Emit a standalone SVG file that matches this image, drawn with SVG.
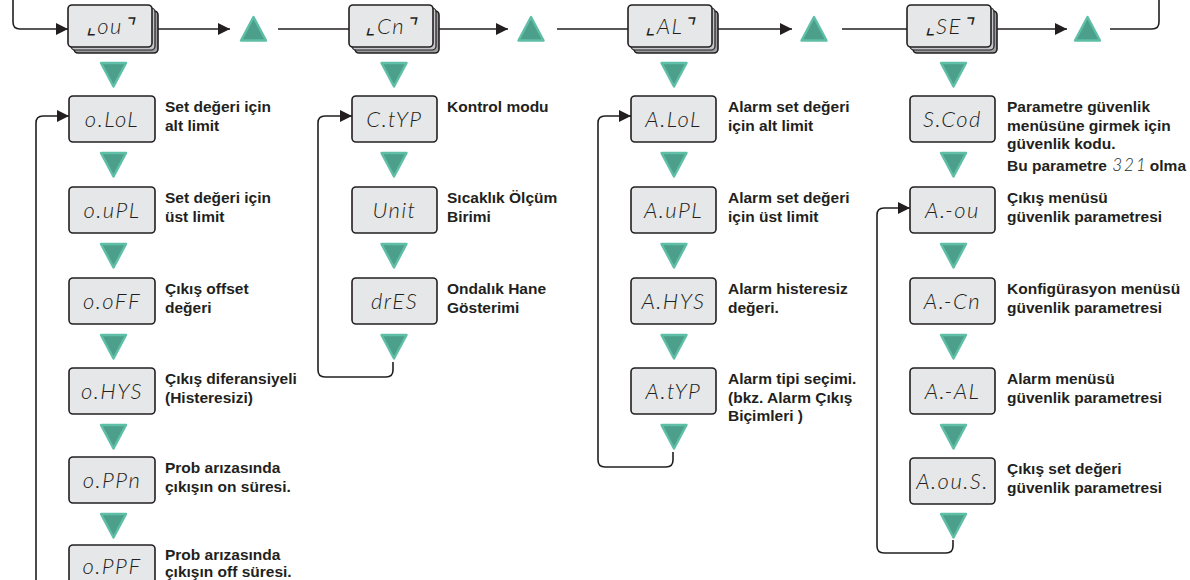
<svg xmlns="http://www.w3.org/2000/svg" xmlns:xlink="http://www.w3.org/1999/xlink" width="1190" height="580" viewBox="0 0 1190 580">
<style>
.face{fill:#e6e7e8;stroke:#231f20;stroke-width:1.6}
.mid{fill:#c4c5c8;stroke:#231f20;stroke-width:1.2}
.back{fill:#9c9ea1;stroke:#231f20;stroke-width:1.6}
.lcd{fill:#e6e7e8;stroke:#231f20;stroke-width:1.6}
.seg{font-family:"Lato","Open Sans","Liberation Sans",sans-serif;font-style:italic;font-weight:300;font-size:22px;letter-spacing:1.5px;fill:#231f20;text-anchor:middle}
.lbl{font-family:"Liberation Sans",Arial,sans-serif;font-weight:bold;font-size:15.5px;fill:#231f20}
.tri{fill:#4b9f8b;stroke:#5fbea6;stroke-width:2.4;stroke-linejoin:round}
.wire{fill:none;stroke:#231f20;stroke-width:1.6}
.arr{fill:none;stroke:#231f20;stroke-width:1.6;marker-end:url(#ah)}
</style>
<defs>
<marker id="ah" markerUnits="userSpaceOnUse" markerWidth="14" markerHeight="14" viewBox="0 0 14 14" refX="13" refY="7" orient="auto">
<path d="M1,1 L13,7 L1,13 Z" fill="#231f20"/>
</marker>
<path id="dn" class="tri" d="M-12.5,0 L12.5,0 L0,23.5 Z"/>
<path id="up" class="tri" d="M-12.5,23.5 L12.5,23.5 L0,0 Z"/>
</defs>

<g id="connectors">
<path class="arr" d="M13,0 L13,22 Q13,29 20,29 L68,29"/>
<path class="arr" d="M158,29 L230,29"/>
<path class="wire" d="M278,29 L349,29"/>
<path class="arr" d="M439,29 L508,29"/>
<path class="wire" d="M557,29 L628,29"/>
<path class="arr" d="M718,29 L792,29"/>
<path class="wire" d="M842,29 L907,29"/>
<path class="arr" d="M997,29 L1067,29"/>
<path class="wire" d="M1110,29 L1152,29 Q1159,29 1159,22 L1159,0"/>
<path class="arr" d="M36,580 L36,123 Q36,116 43,116 L69,116"/>
<path class="arr" d="M393,362 L393,370 Q393,377 386,377 L325,377 Q318,377 318,370 L318,123 Q318,116 325,116 L352,116"/>
<path class="arr" d="M673,452 L673,460 Q673,467 666,467 L605,467 Q598,467 598,460 L598,123 Q598,116 605,116 L631,116"/>
<path class="arr" d="M953,540 L953,546 Q953,553 946,553 L884,553 Q877,553 877,546 L877,215 Q877,208 884,208 L910,208"/>
</g>

<g id="arrows-up">
<use xlink:href="#up" x="253.5" y="17"/>
<use xlink:href="#up" x="531" y="17"/>
<use xlink:href="#up" x="814" y="17"/>
<use xlink:href="#up" x="1087.5" y="17"/>
</g>

<g id="arrows-down">
<use xlink:href="#dn" x="113.5" y="63"/>
<use xlink:href="#dn" x="113.5" y="153"/>
<use xlink:href="#dn" x="113.5" y="244"/>
<use xlink:href="#dn" x="113.5" y="335"/>
<use xlink:href="#dn" x="113.5" y="425"/>
<use xlink:href="#dn" x="113.5" y="514"/>
<use xlink:href="#dn" x="394" y="63"/>
<use xlink:href="#dn" x="394" y="153"/>
<use xlink:href="#dn" x="394" y="244"/>
<use xlink:href="#dn" x="394" y="335"/>
<use xlink:href="#dn" x="674" y="63"/>
<use xlink:href="#dn" x="674" y="153"/>
<use xlink:href="#dn" x="674" y="244"/>
<use xlink:href="#dn" x="674" y="335"/>
<use xlink:href="#dn" x="674" y="425"/>
<use xlink:href="#dn" x="953.5" y="63"/>
<use xlink:href="#dn" x="953.5" y="153"/>
<use xlink:href="#dn" x="953.5" y="244"/>
<use xlink:href="#dn" x="953.5" y="335"/>
<use xlink:href="#dn" x="953.5" y="425"/>
<use xlink:href="#dn" x="953.5" y="514"/>
</g>

<!-- top menu nodes -->
<g id="m-ou">
<rect class="back" x="74" y="11" width="84" height="42" rx="4"/>
<rect class="mid" x="71" y="8" width="84" height="42" rx="4"/>
<rect class="face" x="68" y="5" width="84" height="42" rx="4"/>
<text class="seg" x="110" y="34">⌞ou⌝</text>
</g>
<g id="m-cn">
<rect class="back" x="355" y="11" width="84" height="42" rx="4"/>
<rect class="mid" x="352" y="8" width="84" height="42" rx="4"/>
<rect class="face" x="349" y="5" width="84" height="42" rx="4"/>
<text class="seg" x="391" y="34">⌞Cn⌝</text>
</g>
<g id="m-al">
<rect class="back" x="634" y="11" width="84" height="42" rx="4"/>
<rect class="mid" x="631" y="8" width="84" height="42" rx="4"/>
<rect class="face" x="628" y="5" width="84" height="42" rx="4"/>
<text class="seg" x="670" y="34">⌞AL⌝</text>
</g>
<g id="m-se">
<rect class="back" x="913" y="11" width="84" height="42" rx="4"/>
<rect class="mid" x="910" y="8" width="84" height="42" rx="4"/>
<rect class="face" x="907" y="5" width="84" height="42" rx="4"/>
<text class="seg" x="949" y="34">⌞SE⌝</text>
</g>

<!-- column 1 -->
<g id="p-olol"><rect class="lcd" x="69" y="96" width="86" height="46" rx="4"/><text class="seg" x="112" y="127">o.LoL</text>
<text class="lbl" x="165" y="112">Set değeri için<tspan x="165" dy="18.5">alt limit</tspan></text></g>
<g id="p-oupl"><rect class="lcd" x="69" y="187" width="86" height="46" rx="4"/><text class="seg" x="112" y="218">o.uPL</text>
<text class="lbl" x="165" y="203">Set değeri için<tspan x="165" dy="18.5">üst limit</tspan></text></g>
<g id="p-ooff"><rect class="lcd" x="69" y="278" width="86" height="46" rx="4"/><text class="seg" x="112" y="309">o.oFF</text>
<text class="lbl" x="165" y="294">Çıkış offset<tspan x="165" dy="18.5">değeri</tspan></text></g>
<g id="p-ohys"><rect class="lcd" x="69" y="368" width="86" height="46" rx="4"/><text class="seg" x="112" y="399">o.HYS</text>
<text class="lbl" x="165" y="384">Çıkış diferansiyeli<tspan x="165" dy="18.5">(Histeresizi)</tspan></text></g>
<g id="p-oppn"><rect class="lcd" x="69" y="457" width="86" height="46" rx="4"/><text class="seg" x="112" y="488">o.PPn</text>
<text class="lbl" x="165" y="473">Prob arızasında<tspan x="165" dy="18.5">çıkışın on süresi.</tspan></text></g>
<g id="p-oppf"><rect class="lcd" x="69" y="545" width="86" height="46" rx="4"/><text class="seg" x="112" y="574">o.PPF</text>
<text class="lbl" x="165" y="560">Prob arızasında<tspan x="165" dy="17">çıkışın off süresi.</tspan></text></g>

<!-- column 2 -->
<g id="p-ctyp"><rect class="lcd" x="352" y="96" width="85" height="46" rx="4"/><text class="seg" x="394.5" y="127">C.tYP</text>
<text class="lbl" x="447" y="112">Kontrol modu</text></g>
<g id="p-unit"><rect class="lcd" x="352" y="187" width="85" height="46" rx="4"/><text class="seg" x="394.5" y="218">Unit</text>
<text class="lbl" x="447" y="203">Sıcaklık Ölçüm<tspan x="447" dy="18.5">Birimi</tspan></text></g>
<g id="p-dres"><rect class="lcd" x="352" y="278" width="85" height="46" rx="4"/><text class="seg" x="394.5" y="309">drES</text>
<text class="lbl" x="447" y="294">Ondalık Hane<tspan x="447" dy="18.5">Gösterimi</tspan></text></g>

<!-- column 3 -->
<g id="p-alol"><rect class="lcd" x="631" y="96" width="85" height="46" rx="4"/><text class="seg" x="673.5" y="127">A.LoL</text>
<text class="lbl" x="728" y="112">Alarm set değeri<tspan x="728" dy="18.5">için alt limit</tspan></text></g>
<g id="p-aupl"><rect class="lcd" x="631" y="187" width="85" height="46" rx="4"/><text class="seg" x="673.5" y="218">A.uPL</text>
<text class="lbl" x="728" y="203">Alarm set değeri<tspan x="728" dy="18.5">için üst limit</tspan></text></g>
<g id="p-ahys"><rect class="lcd" x="631" y="278" width="85" height="46" rx="4"/><text class="seg" x="673.5" y="309">A.HYS</text>
<text class="lbl" x="728" y="294">Alarm histeresiz<tspan x="728" dy="18.5">değeri.</tspan></text></g>
<g id="p-atyp"><rect class="lcd" x="631" y="368" width="85" height="46" rx="4"/><text class="seg" x="673.5" y="399">A.tYP</text>
<text class="lbl" x="728" y="384">Alarm tipi seçimi.<tspan x="728" dy="18.5">(bkz. Alarm Çıkış</tspan><tspan x="728" dy="18.5">Biçimleri )</tspan></text></g>

<!-- column 4 -->
<g id="p-scod"><rect class="lcd" x="910" y="96" width="85" height="46" rx="4"/><text class="seg" x="952.5" y="127">S.Cod</text>
<text class="lbl" x="1007" y="112">Parametre güvenlik<tspan x="1007" dy="18.5">menüsüne girmek için</tspan><tspan x="1007" dy="18.5">güvenlik kodu.</tspan><tspan x="1007" dy="21.5">Bu parametre </tspan><tspan font-family="Lato,Open Sans,Liberation Sans,sans-serif" font-style="italic" font-weight="300" font-size="17" letter-spacing="2" dx="1">321</tspan><tspan dx="2">olma</tspan></text></g>
<g id="p-aou"><rect class="lcd" x="910" y="187" width="85" height="46" rx="4"/><text class="seg" x="952.5" y="218">A.-ou</text>
<text class="lbl" x="1007" y="203">Çıkış menüsü<tspan x="1007" dy="18.5">güvenlik parametresi</tspan></text></g>
<g id="p-acn"><rect class="lcd" x="910" y="278" width="85" height="46" rx="4"/><text class="seg" x="952.5" y="309">A.-Cn</text>
<text class="lbl" x="1007" y="294">Konfigürasyon menüsü<tspan x="1007" dy="18.5">güvenlik parametresi</tspan></text></g>
<g id="p-aal"><rect class="lcd" x="910" y="368" width="85" height="46" rx="4"/><text class="seg" x="952.5" y="399">A.-AL</text>
<text class="lbl" x="1007" y="384">Alarm menüsü<tspan x="1007" dy="18.5">güvenlik parametresi</tspan></text></g>
<g id="p-aous"><rect class="lcd" x="910" y="458" width="85" height="46" rx="4"/><text class="seg" x="952.5" y="489">A.ou.S.</text>
<text class="lbl" x="1007" y="474">Çıkış set değeri<tspan x="1007" dy="18.5">güvenlik parametresi</tspan></text></g>
</svg>
